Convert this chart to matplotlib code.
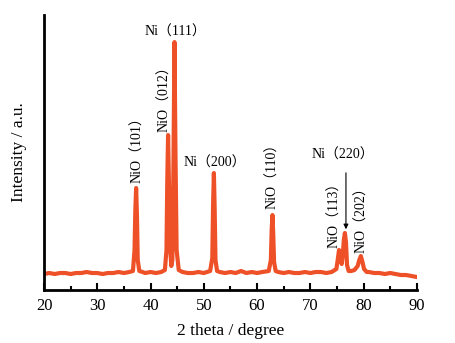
import matplotlib.pyplot as plt
from matplotlib.ticker import MultipleLocator

# XRD pattern, points (intensity in a.u.)
two_theta = [20, 21, 22, 23, 24, 25, 26, 27, 28, 29, 30, 31, 32, 33, 34, 35, 36,
             36.7, 37.0, 37.15, 37.3, 37.45, 37.6, 37.9,
             38.5, 39, 40, 41, 42, 42.7,
             43.0, 43.15, 43.3, 43.45, 43.65, 43.9, 44.1, 44.3, 44.5, 44.7, 44.9, 45.3,
             46, 47, 48, 49, 50, 51.2,
             51.6, 51.75, 51.9, 52.05, 52.2, 52.5,
             53, 54, 55, 56, 57, 58, 59, 60, 61, 62.2,
             62.6, 62.75, 62.9, 63.05, 63.2, 63.5,
             64, 65, 66, 67, 68, 69, 70, 71, 72, 73, 74, 74.9,
             75.15, 75.4, 75.65, 75.9, 76.1, 76.3, 76.5, 76.7, 76.9, 77.2,
             77.7, 78.3, 78.9, 79.2, 79.5, 79.8, 80.1, 80.6,
             81, 82, 83, 84, 85, 86, 87, 88, 89, 90]
intensity = [16, 17, 16, 17, 17, 16, 17, 17, 18, 17, 17, 16, 17, 17, 18, 17, 18,
             19, 40, 80, 102, 75, 30, 19,
             18, 17, 18, 17, 18, 20,
             40, 110, 155, 110, 45, 24, 30, 120, 248, 130, 40, 20,
             18, 17, 17, 18, 17, 19,
             32, 85, 117, 80, 30, 19,
             18, 17, 18, 17, 19, 17, 18, 17, 18, 19,
             30, 60, 75, 55, 28, 19,
             18, 17, 18, 17, 17, 18, 17, 18, 18, 17, 18, 21,
             30, 40, 32, 26, 35, 50, 57, 48, 25, 19,
             19, 20, 24, 30, 34, 28, 21, 18,
             18, 17, 17, 16, 17, 16, 15, 15, 14, 13]

# peak labels: (text, x, y, rotation)
labels = [('NiO（101）', 37.5, 107, 90),
          ('NiO（012）', 42.7, 158, 90),
          ('Ni（111）', 44.6, 258, 0),
          ('Ni（200）', 52.1, 127, 0),
          ('NiO（110）', 63.0, 81, 90),
          ('NiO（113）', 74.6, 42, 90),
          ('NiO（202）', 79.7, 37, 90),
          ('Ni（220）', 76.1, 135, 0)]

serif = ['Liberation Serif', 'Noto Sans CJK SC']
color = '#EE5128'

fig = plt.figure(figsize=(4.56, 3.43), dpi=100)
ax = fig.add_axes([0.0965, 0.1545, 0.8175, 0.8015])
ax.plot(two_theta, intensity, color=color, lw=3, solid_joinstyle='round')

for text, x, y, rot in labels:
    if rot == 90:
        ax.text(x, y, text, rotation=90, ha='center', va='bottom',
                fontsize=10, family=serif)
    else:
        ax.text(x, y, text, ha='center', va='center', fontsize=10, family=serif)

# arrow for Ni (220)
ax.annotate('', xy=(76.7, 58), xytext=(76.7, 120),
            arrowprops=dict(arrowstyle='-|>', color='black', lw=0.8,
                            mutation_scale=7))

ax.set_xlim(20, 90)
ax.set_ylim(0, 275)
ax.xaxis.set_major_locator(MultipleLocator(10))
ax.xaxis.set_minor_locator(MultipleLocator(5))
ax.tick_params(axis='x', which='major', direction='in', length=5, width=1.5,
               labelsize=12, pad=6)
ax.tick_params(axis='x', which='minor', direction='in', length=3, width=1.5)
ax.set_yticks([])
for lab in ax.get_xticklabels():
    lab.set_family(serif)
ax.spines['top'].set_visible(False)
ax.spines['right'].set_visible(False)
ax.spines['left'].set_linewidth(2)
ax.spines['bottom'].set_linewidth(2)

ax.set_xlabel('2 theta / degree', fontsize=12.5, family=serif, labelpad=6)
ax.set_ylabel('Intensity / a.u.', fontsize=12.5, family=serif, labelpad=12)

fig.savefig('out.png', dpi=100)
